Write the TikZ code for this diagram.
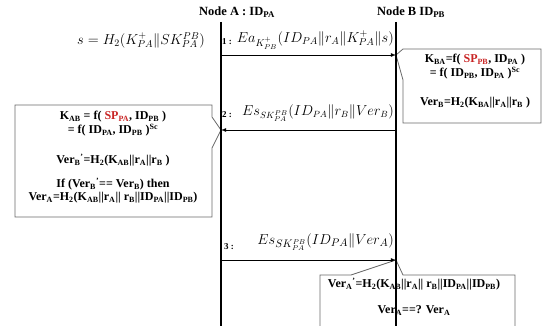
\documentclass[tikz,border=0pt]{standalone}
\usepackage{fontspec}
\setmainfont{Liberation Serif}
\usepackage{tikz}
\usetikzlibrary{positioning}

\definecolor{keyred}{RGB}{200,35,35}
\definecolor{boxgray}{RGB}{105,105,105}
\newcommand{\lo}[1]{\textsubscript{#1}}
\newcommand{\hi}[1]{\textsuperscript{#1}}

\tikzset{
  lifeline/.style={line width=1.1pt},
  msg/.style={-latex, line width=0.8pt},
  callout/.style={draw=boxgray, line width=0.8pt},
  boxtext/.style={font=\fontsize{12}{14}\selectfont\bfseries, align=center, inner sep=0pt},
  head/.style={font=\fontsize{12.5}{15}\selectfont\bfseries},
  num/.style={font=\fontsize{9}{11}\selectfont\bfseries, anchor=west, inner sep=0pt},
  formula/.style={font=\fontsize{14.5}{17}\selectfont, inner sep=0pt}
}

\begin{document}
\begin{tikzpicture}[x=1pt,y=-1pt]
\useasboundingbox (0,0) rectangle (551,326);
\clip (0,0) rectangle (551,326);

% headers
\node[head] (nodeA) at (237,12) {Node A : ID\lo{PA}};
\node[head] (nodeB) at (411,12) {Node B ID\lo{PB}};

% lifelines
\coordinate (topA) at (221,22);
\coordinate (endA) at (221,330);
\coordinate (topB) at (396,22);
\coordinate (endB) at (396,330);

% message ends
\coordinate (a1) at (221,55);
\coordinate (b1) at (396,55);
\coordinate (b2) at (396,130);
\coordinate (a2) at (221,130);
\coordinate (a3) at (221,260);
\coordinate (b3) at (396,260);

% callout boxes
\draw[callout] (403,80) -- (403,123) -- (541,123) -- (541,49) -- (403,49) -- (b1) -- cycle;
\draw[callout] (212,148) -- (212,217) -- (15,217) -- (15,105) -- (212,105) -- (212,117) -- (a2) -- cycle;
\draw[callout] (403,275) -- (515,275) -- (515,335) -- (320,335) -- (320,275) -- (351,275) -- (b3) -- cycle;

\draw[lifeline] (topA) -- (endA);
\draw[lifeline] (topB) -- (endB);

% messages
\draw[msg] (a1) -- (b1);
\draw[msg] (b2) -- (a2);
\draw[msg] (a3) -- (b3);

\node[formula] (sdef) at (141,40) {$s=H_2(K^+_{PA}\|SK^{PB}_{PA})$};

\node[num] (num1) at (222,42) {1 :};
\node[formula, anchor=east] (msg1) at (394,40) {$Ea_{K^+_{PB}}(ID_{PA}\|r_A\|K^+_{PA}\|s)$};
\node[num] (num2) at (222,115) {2 :};
\node[formula, anchor=east, font=\fontsize{13.5}{16}\selectfont] (msg2) at (394,113) {$Es_{SK^{PB}_{PA}}(ID_{PA}\|r_B\|Ver_B)$};
\node[num] (num3) at (224,247) {3 :};
\node[formula, anchor=east, font=\fontsize{15}{18}\selectfont] (msg3) at (394,242) {$Es_{SK^{PB}_{PA}}(ID_{PA}\|Ver_A)$};

% box texts
\node[boxtext, anchor=north] (textB) at (475,54) {%
  K\lo{BA}=f( {\color{keyred}SP\lo{PB}}, ID\lo{PA} )\\[0pt]
  = f( ID\lo{PB}, ID\lo{PA} )\hi{Sc}\\[15pt]
  Ver\lo{B}=H\lo{2}(K\lo{BA}||r\lo{A}||r\lo{B} )};

\node[boxtext, anchor=north] (textA) at (113,111) {%
  K\lo{AB} = f( {\color{keyred}SP\lo{PA}}, ID\lo{PB} )\\[0pt]
  = f( ID\lo{PA}, ID\lo{PB} )\hi{Sc}\\[16pt]
  Ver\lo{B}\hi{'}=H\lo{2}(K\lo{AB}||r\lo{A}||r\lo{B} )\\[10pt]
  If (Ver\lo{B}\hi{'}== Ver\lo{B}) then\\[-1pt]
  Ver\lo{A}=H\lo{2}(K\lo{AB}||r\lo{A}|| r\lo{B}||ID\lo{PA}||ID\lo{PB})};

\node[boxtext, anchor=north] (textC) at (414,278) {%
  Ver\lo{A}\hi{'}=H\lo{2}(K\lo{AB}||r\lo{A}|| r\lo{B}||ID\lo{PA}||ID\lo{PB})\\[12pt]
  Ver\lo{A}==? Ver\lo{A}};
\end{tikzpicture}
\end{document}
